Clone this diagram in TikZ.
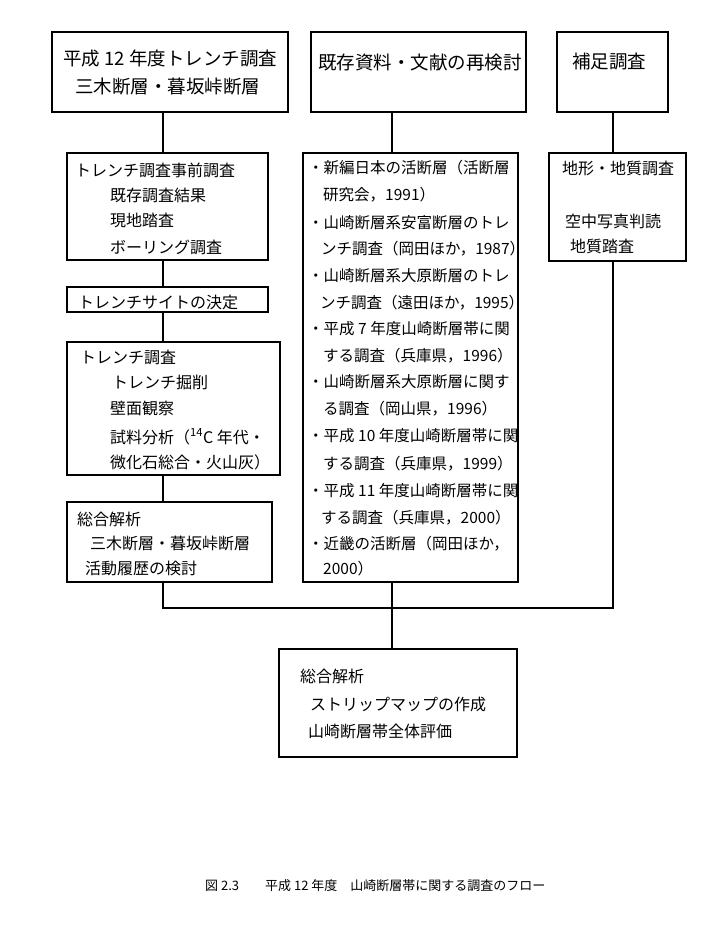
\documentclass[tikz,border=0pt]{standalone}
\usepackage{fontspec}
\setmainfont{Noto Sans CJK JP}
\usepackage{tikz}
\usetikzlibrary{positioning}
\usepackage{xcolor}

\begin{document}
\begin{tikzpicture}[x=1pt, y=-1pt,
    box/.style={draw, line width=1.2pt, rectangle, inner sep=0pt, outer sep=0pt, anchor=north west},
    head/.style={anchor=base west, inner sep=0pt, font=\fontsize{18.5}{20}\selectfont},
    txt/.style={anchor=base west, inner sep=0pt, font=\fontsize{16}{18}\selectfont},
    lst/.style={anchor=base west, inner sep=0pt, font=\fontsize{15.5}{17}\selectfont}]
        \useasboundingbox (0,0) rectangle (720,929);

        % Top boxes
        \node[box, minimum width=236pt, minimum height=80pt] (trench) at (52,32) {};
        \node[box, minimum width=215pt, minimum height=80pt] (review) at (311,32) {};
        \node[box, minimum width=111pt, minimum height=80pt] (extra)  at (557,32) {};
        \node[head] (t1) at (63,65) {平成 12 年度トレンチ調査};
        \node[head] (t2) at (75,93) {三木断層・暮坂峠断層};
        \node[head] (r1) at (318,69) {既存資料・文献の再検討};
        \node[head] (e1) at (572,68) {補足調査};

        % Left column
        \node[box, minimum width=201pt, minimum height=107pt] (pre)  at (67,153) {};
        \node[box, minimum width=201pt, minimum height=25pt]  (site) at (67,287) {};
        \node[box, minimum width=213pt, minimum height=133pt] (dig)  at (67,342) {};
        \node[box, minimum width=205pt, minimum height=80pt]  (sum)  at (67,502) {};
        \node[txt] (p1) at (75,176)  {トレンチ調査事前調査};
        \node[txt] (p2) at (110,201) {既存調査結果};
        \node[txt] (p3) at (110,226) {現地踏査};
        \node[txt] (p4) at (110,253) {ボーリング調査};
        \node[txt] (s1) at (78,308)  {トレンチサイトの決定};
        \node[txt] (d1) at (80,363)  {トレンチ調査};
        \node[txt] (d2) at (112,388) {トレンチ掘削};
        \node[txt] (d3) at (110,414) {壁面観察};
        \node[txt] (d4) at (110,443) {試料分析（\textsuperscript{14}C 年代・};
        \node[txt] (d5) at (110,468) {微化石総合・火山灰）};
        \node[txt] (u1) at (77,525)  {総合解析};
        \node[txt] (u2) at (90,549)  {三木断層・暮坂峠断層};
        \node[txt] (u3) at (85,574)  {活動履歴の検討};

        % Literature list
        \node[box, minimum width=215pt, minimum height=429pt] (lit) at (303,153) {};
        \node[lst] (l1)  at (308,173) {・新編日本の活断層（活断層};
        \node[lst] (l2)  at (323,200) {研究会，1991）};
        \node[lst] (l3)  at (308,228) {・山崎断層系安富断層のトレ};
        \node[lst] (l4)  at (321,254) {ンチ調査（岡田ほか，1987）};
        \node[lst] (l5)  at (308,281) {・山崎断層系大原断層のトレ};
        \node[lst] (l6)  at (320,308) {ンチ調査（遠田ほか，1995）};
        \node[lst] (l7)  at (308,334) {・平成 7 年度山崎断層帯に関};
        \node[lst] (l8)  at (323,361) {する調査（兵庫県，1996）};
        \node[lst] (l9)  at (308,387) {・山崎断層系大原断層に関す};
        \node[lst] (l10) at (323,414) {る調査（岡山県，1996）};
        \node[lst] (l11) at (308,441) {・平成 10 年度山崎断層帯に関};
        \node[lst] (l12) at (323,469) {する調査（兵庫県，1999）};
        \node[lst] (l13) at (308,496) {・平成 11 年度山崎断層帯に関};
        \node[lst] (l14) at (321,523) {する調査（兵庫県，2000）};
        \node[lst] (l15) at (308,549) {・近畿の活断層（岡田ほか，};
        \node[lst] (l16) at (323,574) {2000）};

        % Right column
        \node[box, minimum width=137pt, minimum height=108pt] (geo) at (549,153) {};
        \node[txt] (g1) at (562,174) {地形・地質調査};
        \node[txt] (g2) at (565,227) {空中写真判読};
        \node[txt] (g3) at (570,252) {地質踏査};

        % Final box
        \node[box, minimum width=238pt, minimum height=108pt] (final) at (279,649) {};
        \node[txt] (f1) at (300,682) {総合解析};
        \node[txt] (f2) at (310,710) {ストリップマップの作成};
        \node[txt] (f3) at (308,737) {山崎断層帯全体評価};

        % Caption
        \node[anchor=base west, inner sep=0pt, font=\fontsize{13}{15}\selectfont] (cap) at (205,890)
            {図 2.3　　平成 12 年度　山崎断層帯に関する調査のフロー};

        % Connectors
        \coordinate (lx) at (163,0);
        \coordinate (mx) at (392,0);
        \coordinate (rx) at (613,0);
        \coordinate (join) at (392,608);
        \draw[line width=1.2pt] (trench.south -| lx) -- (pre.north -| lx);
        \draw[line width=1.2pt] (pre.south -| lx) -- (site.north -| lx);
        \draw[line width=1.2pt] (site.south -| lx) -- (dig.north -| lx);
        \draw[line width=1.2pt] (dig.south -| lx) -- (sum.north -| lx);
        \draw[line width=1.2pt] (review.south -| mx) -- (lit.north -| mx);
        \draw[line width=1.2pt] (extra.south -| rx) -- (geo.north -| rx);
        \draw[line width=1.2pt] (sum.south -| lx) |- (join) -| (geo.south -| rx);
        \draw[line width=1.2pt] (lit.south -| mx) -- (final.north -| mx);
    \end{tikzpicture}
\end{document}
